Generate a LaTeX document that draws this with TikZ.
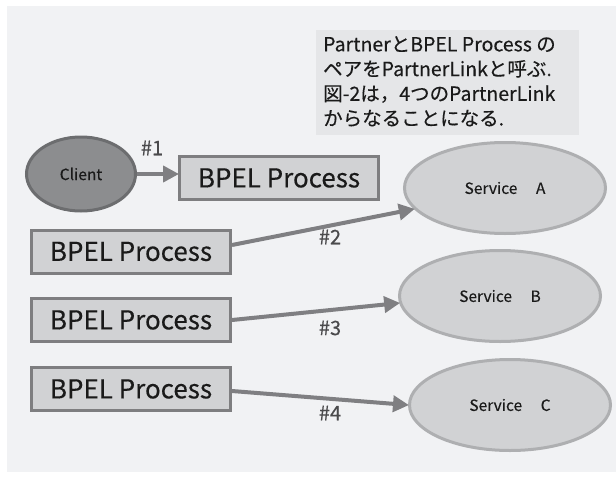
\documentclass[tikz,border=0pt]{standalone}
\usepackage{fontspec}
\setmainfont{Noto Sans CJK JP}[FakeBold=0.3]
\usetikzlibrary{arrows.meta,shapes.geometric,calc}
\definecolor{bgc}{HTML}{F1F2F4}
\definecolor{notec}{HTML}{E5E6E8}
\definecolor{boxc}{HTML}{D1D2D4}
\definecolor{boxline}{HTML}{7E7E80}
\definecolor{ellline}{HTML}{AEAFB1}
\definecolor{clientc}{HTML}{8C8D8F}
\definecolor{clientline}{HTML}{6C6D6F}
\definecolor{arrc}{HTML}{7F7F82}
\definecolor{labc}{HTML}{4A4A4C}
\definecolor{txtc}{HTML}{1A1A1A}
\tikzset{
  bpel/.style={draw=boxline, fill=boxc, line width=3pt, rectangle, minimum width=199pt, minimum height=43pt, inner sep=0pt, font=\fontsize{26}{30}\selectfont, text=txtc},
  svc/.style={draw=ellline, fill=boxc, line width=3pt, ellipse, minimum width=201pt, minimum height=91pt, inner sep=0pt, font=\fontsize{15.5}{18}\selectfont, text=txtc},
  conn/.style={draw=arrc, line width=4pt, -{Triangle[length=16pt,width=16pt]}, shorten >=-1pt},
  lab/.style={font=\fontsize{20}{22}\selectfont, text=labc, inner sep=0pt},
}
\begin{document}
\begin{tikzpicture}[x=1pt,y=-1pt]
\useasboundingbox[fill=white] (0,0) rectangle (616,485);
\fill[bgc] (7,6) rectangle (616,472);
% note
\node[fill=notec, anchor=north west, minimum width=263pt, minimum height=105pt, inner sep=0pt] (notebox) at (316,30) {};
\node[anchor=north west, align=left, inner sep=0pt, text=txtc, font=\fontsize{19.5}{24.7}\selectfont] (note) at (323,36)
{PartnerとBPEL Process の\\ペアをPartnerLinkと呼ぶ.\\図-2は，4つのPartnerLink\\からなることになる.};
% client
\node[draw=clientline, fill=clientc, line width=3pt, ellipse, minimum width=109pt, minimum height=74pt, inner sep=0pt, font=\fontsize{15.5}{18}\selectfont, text=txtc] (cl) at (81,174) {Client};
% boxes
\node[bpel] (b1) at (279,178) {BPEL Process};
\node[bpel] (b2) at (131,251.5) {BPEL Process};
\node[bpel] (b3) at (131,320) {BPEL Process};
\node[bpel] (b4) at (131,389) {BPEL Process};
% services
\node[svc] (sa) at (505,188) {Service\hspace{1.2em}A};
\node[svc] (sb) at (500,296) {Service\hspace{1.2em}B};
\node[svc] (sc) at (510,405) {Service\hspace{1.2em}C};
% connectors
\draw[conn] (cl.east) -- (cl.east -| b1.west);
\draw[conn] ([yshift=6.5pt]b2.east) -- (sa.193);
\draw[conn] (b3.east) -- (sb.184);
\draw[conn] ([yshift=-2pt]b4.east) -- (sc.west);
% labels
\node[lab] (l1) at (152,148) {\#1};
\node[lab] (l2) at (330,237) {\#2};
\node[lab] (l3) at (330,328) {\#3};
\node[lab] (l4) at (330,413) {\#4};
\end{tikzpicture}
\end{document}
